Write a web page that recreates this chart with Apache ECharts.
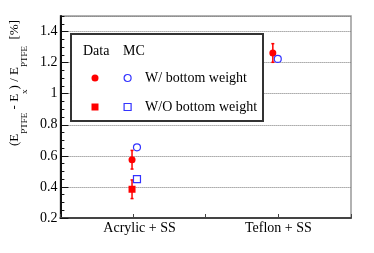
<!DOCTYPE html>
<html>
<head>
<meta charset="utf-8">
<script src="https://cdn.jsdelivr.net/npm/echarts@6/dist/echarts.min.js"></script>
<style>
  html, body { margin: 0; padding: 0; background: #fff; }
  #chart { width: 374px; height: 253px; }
</style>
</head>
<body>
<div id="chart"></div>
<script>
// ---- data ----
const catLabels = ['Acrylic + SS', 'Teflon + SS'];
const catPos = [1, 3];
const dataWX = [0.986, 2.924];
const dataWY = [0.575, 1.262];
const dataWErr = [0.06, 0.06];
const dataWoX = [0.986];
const dataWoY = [0.385];
const dataWoErr = [0.06];
const mcWX = [1.054, 2.992];
const mcWY = [0.655, 1.224];
const mcWoX = [1.054];
const mcWoY = [0.45];
const yTicksMin = 0.2, yTicksMax = 1.5, yInterval = 0.2;

const FONT = 'Liberation Serif';
const RED = '#ff0000';
const BLUE = '#3333ff';

const pts = (xs, ys) => xs.map((x, i) => [x, ys[i]]);
const errs = (xs, ys, es) => xs.map((x, i) => [x, ys[i] - es[i], ys[i] + es[i]]);

const chart = echarts.init(document.getElementById('chart'), null, { renderer: 'canvas' });

function renderErr(params, api) {
  const x = api.value(0);
  const p1 = api.coord([x, api.value(1)]);
  const p2 = api.coord([x, api.value(2)]);
  const st = { stroke: RED, lineWidth: 1.5 };
  return {
    type: 'group',
    children: [
      { type: 'line', shape: { x1: p1[0], y1: p1[1], x2: p2[0], y2: p2[1] }, style: st },
      { type: 'line', shape: { x1: p1[0] - 1.5, y1: p1[1], x2: p1[0] + 1.5, y2: p1[1] }, style: st },
      { type: 'line', shape: { x1: p2[0] - 1.5, y1: p2[1], x2: p2[0] + 1.5, y2: p2[1] }, style: st }
    ]
  };
}

const legendCommon = {
  orient: 'vertical',
  top: 71,
  padding: 0,
  itemWidth: 7,
  itemHeight: 7,
  itemGap: 15,
  selectedMode: false,
  z: 20,
  textStyle: { fontFamily: FONT, fontSize: 14, color: '#000', padding: [0, 0, 0, 9] }
};

const option = {
  animation: false,
  backgroundColor: '#fff',
  grid: {
    left: 60, right: 23, top: 16, bottom: 35,
    show: true, borderColor: '#999', borderWidth: 1.5, backgroundColor: 'transparent'
  },
  xAxis: {
    type: 'value', min: 0, max: 4, interval: 1,
    axisLine: { lineStyle: { color: '#444', width: 2 } },
    axisTick: { inside: true, length: 4, lineStyle: { color: '#444' } },
    splitLine: { show: false },
    axisLabel: {
      margin: 3,
      fontFamily: FONT, fontSize: 14, color: '#000',
      formatter: v => {
        const i = catPos.indexOf(v);
        if (i < 0) return '';
        return i === 0 ? '{a|' + catLabels[i] + '}' : catLabels[i];
      },
      rich: { a: { fontFamily: FONT, fontSize: 14, color: '#000', padding: [0, 0, 0, 13] } }
    }
  },
  yAxis: [
    {
      type: 'value', min: yTicksMin, max: yTicksMax, interval: yInterval,
      axisLine: { show: true, lineStyle: { color: '#111', width: 2 } },
      axisTick: { inside: true, length: 8, lineStyle: { color: '#111' } },
      axisLabel: { margin: 3, fontFamily: FONT, fontSize: 14, color: '#000', showMaxLabel: false },
      splitLine: { show: true, lineStyle: { type: 'dotted', color: '#777', width: 1 } },
      name: '{m|(E}{s|PTFE}{m| - E}{s|x}{m|) / E}{s|PTFE}{m|  [%]}',
      nameLocation: 'middle',
      nameRotate: 90,
      nameGap: 28,
      nameTextStyle: {
        fontFamily: FONT, color: '#000', padding: [0, 0, 0, 68],
        rich: {
          m: { fontFamily: FONT, fontSize: 13, color: '#000', lineHeight: 13, verticalAlign: 'top' },
          s: { fontFamily: FONT, fontSize: 9, color: '#000', lineHeight: 21, verticalAlign: 'bottom' }
        }
      }
    },
    {
      type: 'value', min: yTicksMin, max: yTicksMax, interval: 0.05,
      position: 'left',
      axisLine: { show: false },
      axisTick: { inside: true, length: 4, lineStyle: { color: '#111' } },
      axisLabel: { show: false },
      splitLine: { show: false }
    }
  ],
  legend: [
    Object.assign({}, legendCommon, {
      left: 91.5,
      formatter: () => ' ',
      data: [
        { name: 'Data W/', icon: 'circle', itemStyle: { color: RED, borderWidth: 0 } },
        { name: 'Data W/O', icon: 'rect', itemStyle: { color: RED, borderWidth: 0 } }
      ]
    }),
    Object.assign({}, legendCommon, {
      left: 123.5,
      formatter: n => n === 'MC W/' ? 'W/ bottom weight' : 'W/O bottom weight',
      data: [
        { name: 'MC W/', icon: 'circle', itemStyle: { color: '#fff', borderColor: BLUE, borderWidth: 1.2 } },
        { name: 'MC W/O', icon: 'rect', itemStyle: { color: '#fff', borderColor: BLUE, borderWidth: 1.2 } }
      ]
    })
  ],
  graphic: [
    { type: 'rect', z: 10, shape: { x: 71, y: 34, width: 192, height: 87 },
      style: { fill: '#fff', stroke: '#333', lineWidth: 2 } },
    { type: 'text', z: 20, x: 83, y: 51,
      style: { text: 'Data', font: '14px "Liberation Serif"', fill: '#000', verticalAlign: 'middle' } },
    { type: 'text', z: 20, x: 123, y: 51,
      style: { text: 'MC', font: '14px "Liberation Serif"', fill: '#000', verticalAlign: 'middle' } }
  ],
  series: [
    { type: 'custom', name: 'errW', renderItem: renderErr, data: errs(dataWX, dataWY, dataWErr), z: 2 },
    { type: 'custom', name: 'errWo', renderItem: renderErr, data: errs(dataWoX, dataWoY, dataWoErr), z: 2 },
    { type: 'scatter', name: 'Data W/', symbol: 'circle', symbolSize: 7, z: 3,
      itemStyle: { color: RED, opacity: 1 }, data: pts(dataWX, dataWY) },
    { type: 'scatter', name: 'Data W/O', symbol: 'rect', symbolSize: 7, z: 3,
      itemStyle: { color: RED, opacity: 1 }, data: pts(dataWoX, dataWoY) },
    { type: 'scatter', name: 'MC W/', symbol: 'circle', symbolSize: 7, z: 3,
      itemStyle: { color: '#fff', borderColor: BLUE, borderWidth: 1.2, opacity: 1 }, data: pts(mcWX, mcWY) },
    { type: 'scatter', name: 'MC W/O', symbol: 'rect', symbolSize: 7, z: 3,
      itemStyle: { color: '#fff', borderColor: BLUE, borderWidth: 1.2, opacity: 1 }, data: pts(mcWoX, mcWoY) }
  ]
};
chart.setOption(option);
</script>
</body>
</html>
